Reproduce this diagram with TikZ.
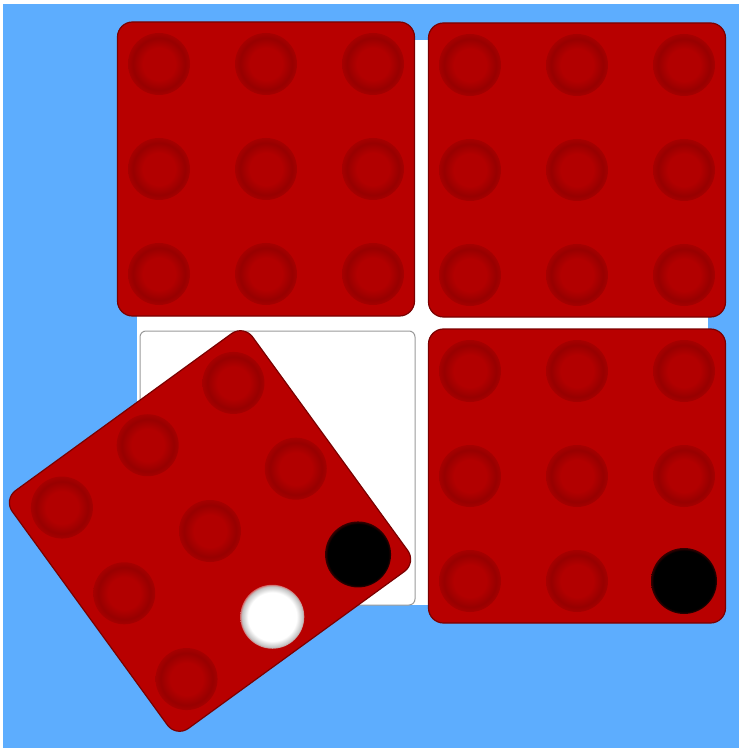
\documentclass[tikz,border=0pt]{standalone}
\usepackage{xcolor}
\usepackage{tikz}
\usetikzlibrary{
  positioning,
  calc,
  backgrounds
}
\definecolor{pgBlue}{HTML}{5DADFE}
\definecolor{pgRed}{HTML}{B80000}
\definecolor{pgEdge}{HTML}{7A0000}
\definecolor{pgHoleIn}{HTML}{B20000}
\definecolor{pgHoleRim}{HTML}{980000}
\definecolor{pgSlot}{HTML}{9A9A9A}
\pgfdeclareradialshading{holeshade}{\pgfpoint{0bp}{0bp}}{%
  color(0bp)=(pgHoleIn); color(13bp)=(pgHoleIn); color(21bp)=(pgHoleRim);
  color(25bp)=(pgRed!90!black); color(50bp)=(pgRed)}
\pgfdeclareradialshading{whiteshade}{\pgfpoint{0bp}{0bp}}{%
  color(0bp)=(white); color(19bp)=(white); color(24bp)=(black!25);
  color(25bp)=(pgRed!60!white); color(50bp)=(pgRed)}
\pgfdeclareradialshading{blackshade}{\pgfpoint{0bp}{0bp}}{%
  color(0bp)=(black); color(23bp)=(black); color(25bp)=(black!70!pgRed);
  color(50bp)=(pgRed)}
\tikzset{
  board/.style={fill=white},
  slot/.style={draw=pgSlot, line width=0.5pt, fill=white, rounded corners=3pt,
    minimum width=137.5pt, minimum height=137pt, inner sep=0pt},
  quad/.style={draw=pgEdge, line width=0.6pt, fill=pgRed, rounded corners=7.5pt,
    minimum width=148.5pt, minimum height=147pt, inner sep=0pt},
  hole/.style={circle, minimum size=31pt, inner sep=0pt, shading=holeshade},
  blackmarble/.style={circle, minimum size=33pt, inner sep=0pt, shading=blackshade},
  whitemarble/.style={circle, minimum size=32pt, inner sep=0pt, shading=whiteshade}
}
\begin{document}
\begin{tikzpicture}[x=0.5pt, y=-0.5pt]
  \useasboundingbox (0,0) rectangle (739,748);
  \fill[white] (0,0) rectangle (739,748);
  \fill[pgBlue] (3,4) rectangle (739,748);
  % board under the quadrants
  \fill[board] (137,40) rectangle (708,605);
  \node[slot] (slotBL) at (277.5,468) {};
  % three quadrants in place
  \node[quad] (qTL) at (266,169) {};
  \node[quad] (qTR) at (577,170) {};
  \node[quad] (qBR) at (577,476) {};
  \foreach \q in {TL,TR,BR} {
    \foreach \i in {-1,0,1} {
      \foreach \j in {-1,0,1} {
        \node[hole] (h\q\i\j) at ($(q\q.center)+(\i*107,\j*105)$) {};
      }
    }
  }
  \node[blackmarble] (bkBR) at (hBR11) {};
  % turned quadrant
  \node[quad, rotate=36] (qBL) at (210,531) {};
  \begin{scope}[shift={(qBL.center)}, rotate=36]
    \foreach \i in {-1,0,1} {
      \foreach \j in {-1,0,1} {
        \node[hole] (hBL\i\j) at (\i*106,\j*106) {};
      }
    }
  \end{scope}
  \node[blackmarble] (bkBL) at (hBL11) {};
  \node[whitemarble] (whBL) at (hBL01) {};
\end{tikzpicture}
\end{document}
